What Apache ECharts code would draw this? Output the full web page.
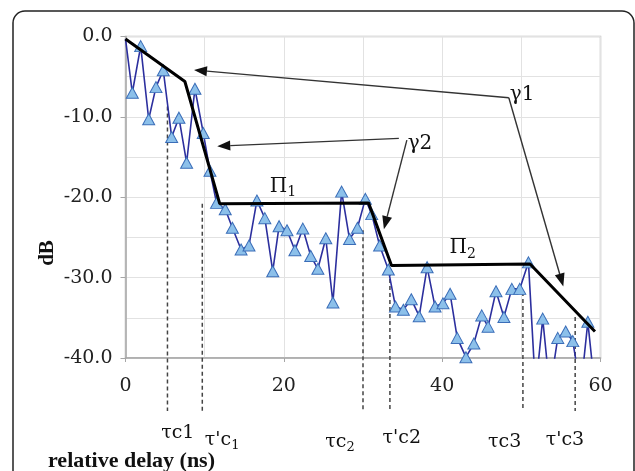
<!DOCTYPE html>
<html>
<head>
<meta charset="utf-8">
<script src="https://cdn.jsdelivr.net/npm/echarts@6/dist/echarts.min.js"></script>
<style>
html,body{margin:0;padding:0;background:#fff;}
#chart{width:635px;height:471px;}
</style>
</head>
<body>
<div id="chart"></div>
<script>
// ---- data ----
const delays = [0, 0.86, 1.92, 2.93, 3.85, 4.77, 5.83, 6.75, 7.72, 8.77, 9.82, 10.67,
  11.5, 12.6, 13.5, 14.6, 15.6, 16.6, 17.6, 18.6, 19.4, 20.4, 21.4, 22.4, 23.4, 24.3,
  25.3, 26.2, 27.3, 28.3, 29.3, 30.3, 31.1, 32.1, 33.2, 34.1, 35.1, 36.1, 37.1, 38.1,
  39.1, 40.1, 41.0, 41.9, 43.0, 44.0, 45.0, 45.8, 46.8, 47.8, 48.8, 49.8, 50.9, 51.8,
  52.7, 53.6, 54.6, 55.6, 56.5, 57.5, 58.4, 59.3];
const powerDB = [-0.3, -7.0, -1.2, -10.3, -6.3, -4.2, -12.5, -10.1, -15.7, -6.5, -12.0, -16.7,
  -20.7, -21.5, -23.8, -26.5, -26.0, -20.4, -22.6, -29.2, -23.6, -24.1, -26.6, -23.9, -27.3, -28.9,
  -25.1, -33.1, -19.3, -25.2, -23.8, -20.2, -22.1, -26.0, -29.0, -33.6, -34.0, -32.7, -34.8, -28.7,
  -33.6, -33.2, -32.0, -37.5, -39.9, -38.2, -34.7, -36.1, -31.7, -34.9, -31.4, -31.4, -28.1, -44.0,
  -35.1, -44.0, -37.5, -36.7, -37.9, -44.0, -35.5, -44.0];
const fitDelays = [0, 7.5, 11.9, 30.7, 33.6, 51.1, 59.3];
const fitDB = [-0.3, -5.6, -20.8, -20.7, -28.5, -28.3, -36.7];
const tauMain = ['τc', "τ'c", 'τc', "τ'c", 'τc', "τ'c"];
const tauIndex = ['1', '1', '2', '2', '3', '3'];
const tauIsSub = [false, true, true, false, false, false];
const tauDelays = [5.3, 9.7, 30.0, 33.4, 50.2, 56.8];
const tauTopDB = [-8.7, -20.8, -24.1, -29.3, -31.8, -34.9];
const xTickValues = [0, 20, 40, 60];
const yTickValues = [0, -10, -20, -30, -40];

// ---- annotation layout (data coordinates) ----
const tauBottomDB = -46.6;
const tauLabelPos = [[6.6, -49.4], [12.2, -50.2], [27.1, -50.4], [34.9, -49.9], [47.9, -50.4], [55.5, -50.2]];
const arrows = [
  [[48.42, -7.62], [8.65, -4.17]],
  [[48.42, -7.62], [55.3, -31.1]],
  [[34.53, -12.68], [11.59, -13.64]],
  [[35.54, -12.89], [32.64, -23.97]]
];
const textNotes = [
  {pos: [50.1, -7.3], main: 'γ', sub: '1', isSub: false},
  {pos: [37.2, -13.4], main: 'γ', sub: '2', isSub: false},
  {pos: [19.9, -18.7], main: 'Π', sub: '1', isSub: true},
  {pos: [42.6, -26.3], main: 'Π', sub: '2', isSub: true}
];

const SERIF = '"DejaVu Serif", "Liberation Serif", serif';
const chart = echarts.init(document.getElementById('chart'), null, {renderer: 'canvas'});

const pdpData = delays.map((d, i) => i === 0 ? {value: [d, powerDB[i]], symbol: 'none'} : [d, powerDB[i]]);
const fitData = fitDelays.map((d, i) => [d, fitDB[i]]);

function labelGroup(cx, cy, main, sub, isSub, size) {
  const ctx = document.createElement('canvas').getContext('2d');
  ctx.font = size + 'px ' + SERIF;
  const wMain = ctx.measureText(main).width;
  const subSize = isSub ? Math.round(size * 0.68) : size;
  ctx.font = subSize + 'px ' + SERIF;
  const wSub = ctx.measureText(sub).width;
  const total = wMain + wSub;
  const left = cx - total / 2;
  return {
    type: 'group',
    children: [
      {type: 'text', x: left, y: cy, style: {text: main, font: size + 'px ' + SERIF, fill: '#111', align: 'left', verticalAlign: 'middle'}},
      {type: 'text', x: left + wMain, y: cy + (isSub ? size * 0.3 : 0), style: {text: sub, font: subSize + 'px ' + SERIF, fill: '#111', align: 'left', verticalAlign: 'middle'}}
    ]
  };
}

const option = {
  animation: false,
  backgroundColor: '#fff',
  grid: {left: 125.5, right: 34.5, top: 36.5, bottom: 113, show: true, borderColor: '#bdbdbd', borderWidth: 1.5, containLabel: false},
  xAxis: {
    type: 'value', min: 0, max: 60, interval: 20,
    axisLine: {show: true, onZero: false, lineStyle: {color: '#a6a6a6', width: 1.5}},
    axisTick: {show: true, length: 4, lineStyle: {color: '#a6a6a6'}},
    axisLabel: {margin: 19, fontSize: 19, fontFamily: SERIF, color: '#222',
      formatter: v => xTickValues.indexOf(v) >= 0 ? String(v) : ''},
    splitLine: {show: true, lineStyle: {color: '#e2e2e2', width: 1}},
    minorTick: {show: false, splitNumber: 2},
    minorSplitLine: {show: true, lineStyle: {color: '#e2e2e2', width: 1}}
  },
  yAxis: {
    type: 'value', min: -40, max: 0, interval: 10,
    axisLine: {show: true, onZero: false, lineStyle: {color: '#a6a6a6', width: 1.5}},
    axisTick: {show: true, length: 5, lineStyle: {color: '#a6a6a6'}},
    axisLabel: {margin: 13, fontSize: 19, fontFamily: SERIF, color: '#222',
      formatter: v => yTickValues.indexOf(v) >= 0 ? v.toFixed(1) : ''},
    splitLine: {show: true, lineStyle: {color: '#e2e2e2', width: 1}},
    minorTick: {show: false, splitNumber: 2},
    minorSplitLine: {show: true, lineStyle: {color: '#e2e2e2', width: 1}}
  },
  graphic: [
    {type: 'rect', shape: {x: 13, y: 11, width: 621, height: 490, r: 12}, style: {fill: 'none', stroke: '#222', lineWidth: 1.5}, z: 100},
    {type: 'text', x: 48, y: 461, style: {text: 'relative delay (ns)', font: 'bold 22px "Liberation Serif", serif', fill: '#111', align: 'left', verticalAlign: 'middle'}},
    {type: 'text', x: 48, y: 253, rotation: Math.PI / 2, style: {text: 'dB', font: 'bold 21px "Liberation Serif", serif', fill: '#111', align: 'center', verticalAlign: 'middle'}}
  ],
  series: [
    {
      name: 'PDP', type: 'line', data: pdpData, clip: true,
      symbol: 'triangle', symbolSize: [12, 11],
      lineStyle: {color: '#2c2f9e', width: 1.6},
      itemStyle: {color: '#8cc0ea', borderColor: '#3a6db8', borderWidth: 1},
      z: 3
    },
    {
      name: 'fit', type: 'line', data: fitData, symbol: 'none',
      lineStyle: {color: '#000', width: 3}, z: 4
    },
    {
      name: 'tau', type: 'custom', clip: false, z: 2,
      data: tauDelays.map((d, i) => [d, tauTopDB[i], i]),
      renderItem: function (params, api) {
        const i = api.value(2);
        const top = api.coord([api.value(0), api.value(1)]);
        const bot = api.coord([api.value(0), tauBottomDB]);
        const lp = api.coord(tauLabelPos[i]);
        return {
          type: 'group',
          children: [
            {type: 'line', shape: {x1: top[0], y1: top[1], x2: bot[0], y2: bot[1]},
             style: {stroke: '#444', lineWidth: 1.5, lineDash: [4, 3]}},
            labelGroup(lp[0], lp[1], tauMain[i], tauIndex[i], tauIsSub[i], 19)
          ]
        };
      }
    },
    {
      name: 'arrows', type: 'custom', clip: false, z: 5,
      data: arrows.map((a, i) => [a[0][0], a[0][1], i]),
      renderItem: function (params, api) {
        const a = arrows[api.value(2)];
        const p0 = api.coord(a[0]);
        const p1 = api.coord(a[1]);
        const dx = p1[0] - p0[0], dy = p1[1] - p0[1];
        const len = Math.sqrt(dx * dx + dy * dy);
        const ux = dx / len, uy = dy / len;
        const hl = 13, hw = 5;
        const bx = p1[0] - ux * hl, by = p1[1] - uy * hl;
        return {
          type: 'group',
          children: [
            {type: 'line', shape: {x1: p0[0], y1: p0[1], x2: bx, y2: by}, style: {stroke: '#333', lineWidth: 1.4}},
            {type: 'polygon', shape: {points: [[p1[0], p1[1]], [bx - uy * hw, by + ux * hw], [bx + uy * hw, by - ux * hw]]}, style: {fill: '#111'}}
          ]
        };
      }
    },
    {
      name: 'notes', type: 'custom', clip: false, z: 6,
      data: textNotes.map((t, i) => [t.pos[0], t.pos[1], i]),
      renderItem: function (params, api) {
        const t = textNotes[api.value(2)];
        const p = api.coord(t.pos);
        return labelGroup(p[0], p[1], t.main, t.sub, t.isSub, 20);
      }
    }
  ]
};
chart.setOption(option);
</script>
</body>
</html>
